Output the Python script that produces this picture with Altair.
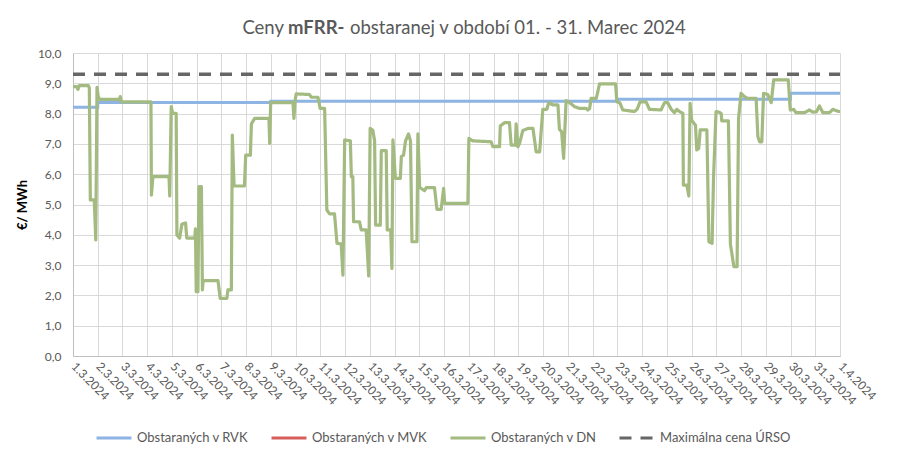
import json
import altair as alt
import pandas as pd

# ---------------- data ----------------
series_names = ["Obstaraných v RVK", "Obstaraných v MVK", "Obstaraných v DN", "Maximálna cena ÚRSO"]
series_colors = ["#8db4e2", "#d65f5c", "#a3ba80", "#666666"]

x_labels = ["1.3.2024", "2.3.2024", "3.3.2024", "4.3.2024", "5.3.2024", "6.3.2024",
            "7.3.2024", "8.3.2024", "9.3.2024", "10.3.2024", "11.3.2024", "12.3.2024",
            "13.3.2024", "14.3.2024", "15.3.2024", "16.3.2024", "17.3.2024", "18.3.2024",
            "19.3.2024", "20.3.2024", "21.3.2024", "22.3.2024", "23.3.2024", "24.3.2024",
            "25.3.2024", "26.3.2024", "27.3.2024", "28.3.2024", "29.3.2024", "30.3.2024",
            "31.3.2024", "1.4.2024"]
y_ticks = [0, 1, 2, 3, 4, 5, 6, 7, 8, 9, 10]

title_parts = ["Ceny", "mFRR-", "obstaranej v období 01. - 31. Marec 2024"]

# RVK (step values, day offset from 1.3.2024)
rvk_t = [0, 1, 8, 22, 29, 31]
rvk_v = [8.21, 8.37, 8.41, 8.47, 8.67, 8.67]

# Max price URSO
urso_t = [0, 31]
urso_v = [9.30, 9.30]

# DN
dn_t = [0.00, 0.15, 0.20, 0.25, 0.62, 0.66, 0.70, 0.86, 0.92, 0.97,
        1.02, 1.08, 1.88, 1.91, 1.95, 3.15, 3.17, 3.23, 3.88, 3.91,
        3.97, 4.03, 4.17, 4.20, 4.31, 4.40, 4.55, 4.60, 4.92, 4.95,
        4.98, 5.05, 5.09, 5.19, 5.23, 5.26, 5.86, 5.95, 6.22, 6.26,
        6.40, 6.44, 6.51, 6.93, 6.98, 7.17, 7.21, 7.34, 7.92, 7.95,
        7.99, 8.89, 8.93, 8.97, 9.02, 9.56, 9.63, 9.90, 9.99, 10.17,
        10.26, 10.37, 10.57, 10.67, 10.84, 10.91, 10.98, 11.21, 11.25, 11.31,
        11.34, 11.58, 11.65, 11.85, 11.95, 12.01, 12.12, 12.19, 12.23, 12.42,
        12.46, 12.66, 12.70, 12.84, 12.89, 12.93, 13.03, 13.23, 13.27, 13.36,
        13.44, 13.56, 13.64, 13.70, 13.90, 13.94, 14.01, 14.21, 14.28, 14.61,
        14.71, 14.88, 14.98, 15.02, 15.96, 16.00, 16.16, 16.90, 16.97, 17.24,
        17.27, 17.44, 17.64, 17.71, 17.88, 17.91, 17.98, 18.05, 18.18, 18.39,
        18.59, 18.72, 18.86, 18.92, 18.99, 19.15, 19.23, 19.39, 19.60, 19.66,
        19.75, 19.83, 19.93, 20.07, 20.27, 20.47, 20.74, 20.81, 20.88, 20.94,
        21.15, 21.28, 21.93, 21.98, 22.10, 22.22, 22.69, 22.80, 22.92, 23.16,
        23.30, 23.77, 23.84, 23.91, 24.04, 24.18, 24.31, 24.40, 24.51, 24.65,
        24.67, 24.81, 24.89, 24.94, 25.01, 25.16, 25.21, 25.29, 25.35, 25.62,
        25.70, 25.83, 25.89, 25.99, 26.13, 26.20, 26.22, 26.49, 26.57, 26.71,
        26.84, 26.90, 27.00, 27.14, 27.27, 27.61, 27.68, 27.75, 27.84, 27.91,
        28.08, 28.22, 28.32, 28.91, 28.99, 29.13, 29.22, 29.56, 29.76, 29.90,
        30.05, 30.17, 30.31, 30.57, 30.71, 30.94, 31.00]
dn_v = [8.89, 8.89, 8.80, 8.92, 8.92, 8.85, 5.15, 5.15, 3.83, 8.87,
        8.56, 8.47, 8.47, 8.56, 8.39, 8.39, 5.31, 5.92, 5.92, 5.28,
        8.23, 8.01, 8.01, 3.99, 3.89, 4.35, 4.39, 3.89, 3.89, 4.20,
        2.12, 2.12, 5.59, 5.59, 2.18, 2.49, 2.49, 1.90, 1.90, 2.18,
        2.18, 7.29, 5.61, 5.61, 6.63, 6.63, 7.66, 7.84, 7.84, 7.02,
        8.36, 8.36, 7.84, 8.40, 8.65, 8.63, 8.54, 8.54, 8.17, 8.17,
        4.82, 4.69, 4.69, 3.72, 3.70, 2.67, 7.13, 7.10, 5.92, 5.92,
        4.43, 4.43, 4.16, 4.16, 2.64, 7.51, 7.45, 7.10, 4.32, 4.32,
        6.78, 6.78, 4.16, 4.16, 2.89, 7.13, 5.86, 5.86, 6.58, 6.63,
        7.10, 7.33, 7.10, 3.77, 3.77, 7.33, 5.56, 5.46, 5.56, 5.56,
        4.84, 4.84, 5.53, 5.04, 5.04, 7.18, 7.10, 7.07, 6.91, 6.91,
        7.59, 7.70, 7.70, 6.96, 6.96, 7.66, 6.90, 7.02, 7.44, 7.51,
        7.51, 6.74, 6.74, 7.40, 8.14, 8.14, 8.36, 8.29, 8.29, 7.48,
        7.40, 6.52, 8.43, 8.36, 8.23, 8.17, 8.17, 8.12, 8.17, 8.50,
        8.50, 8.98, 8.98, 8.39, 8.36, 8.12, 8.07, 8.14, 8.39, 8.39,
        8.14, 8.12, 8.25, 8.36, 8.36, 8.14, 8.03, 8.14, 8.07, 8.01,
        5.64, 5.64, 5.28, 8.34, 7.77, 7.62, 6.80, 6.85, 7.46, 7.46,
        3.77, 3.72, 5.92, 8.07, 8.04, 8.00, 7.76, 7.76, 3.70, 2.95,
        2.95, 7.84, 8.67, 8.56, 8.50, 8.50, 7.24, 7.07, 7.07, 8.67,
        8.63, 8.36, 9.11, 9.11, 8.12, 8.14, 8.03, 8.03, 8.12, 8.05,
        8.06, 8.25, 8.03, 8.03, 8.14, 8.07, 8.07]
assert len(dn_t) == len(dn_v)

# ---------------- build ----------------
rvk_df = pd.DataFrame({"t": rvk_t, "v": rvk_v, "series": series_names[0]})
dn_df = pd.DataFrame({"t": dn_t, "v": dn_v, "series": series_names[2]})
urso_df = pd.DataFrame({"t": urso_t, "v": urso_v, "series": series_names[3]})

FONT = "Lato"
GRID = "#d9d9d9"
TXT = "#595959"

legend = alt.Legend(
    title=None, orient="none", legendX=22, legendY=366, direction="horizontal",
    symbolType="stroke", symbolSize=1225, symbolStrokeWidth=3,
    labelFontSize=13, labelColor=TXT, labelFont=FONT, columnPadding=16,
    labelOffset=4,
)
cscale = alt.Scale(domain=series_names, range=series_colors)
dscale = alt.Scale(domain=series_names, range=[[1, 0], [1, 0], [1, 0], [12, 9]])

x_axis = alt.Axis(
    values=list(range(len(x_labels))),
    labelExpr=f"{json.dumps(x_labels)}[datum.value]",
    labelAngle=45, labelAlign="left", labelBaseline="middle",
    labelFontSize=12, labelColor=TXT, labelFont=FONT, labelPadding=8,
    labelOverlap=False, labelFlush=False, labelBound=False,
    grid=True, gridColor=GRID, domainColor="#bfbfbf", ticks=False, title=None,
)
y_axis = alt.Axis(
    values=y_ticks,
    labelExpr="replace(format(datum.value, '.1f'), '.', ',')",
    labelFontSize=12, labelColor=TXT, labelFont=FONT, labelPadding=12,
    grid=True, gridColor=GRID, domainColor="#bfbfbf", ticks=False,
    title="€/ MWh", titleFont=FONT, titleFontSize=13, titleFontWeight="bold",
    titleColor="#000000", titlePadding=8,
)

xenc = alt.X("t:Q", scale=alt.Scale(domain=[0, 31], nice=False, zero=False), axis=x_axis)
yenc = alt.Y("v:Q", scale=alt.Scale(domain=[0, 10], nice=False), axis=y_axis)
cenc = alt.Color("series:N", scale=cscale, legend=legend)
denc = alt.StrokeDash("series:N", scale=dscale, legend=legend)

rvk = alt.Chart(rvk_df).mark_line(interpolate="step-after", strokeWidth=3).encode(
    x=xenc, y=yenc, color=cenc, strokeDash=denc)
dn = alt.Chart(dn_df).mark_line(strokeWidth=3.2, strokeJoin="round").encode(
    x=xenc, y=yenc, color=cenc, strokeDash=denc)
urso = alt.Chart(urso_df).mark_line(strokeWidth=3.5).encode(
    x=xenc, y=yenc, color=cenc, strokeDash=denc)

TS = 18.5
t1 = alt.Chart(pd.DataFrame({"s": [title_parts[0]]})).mark_text(
    font=FONT, fontSize=TS, color=TXT, align="right", baseline="middle").encode(
    text="s:N", x=alt.value(211), y=alt.value(-25))
t2 = alt.Chart(pd.DataFrame({"s": [title_parts[1]]})).mark_text(
    font=FONT, fontSize=TS, color=TXT, fontWeight="bold", align="left", baseline="middle").encode(
    text="s:N", x=alt.value(215), y=alt.value(-25))
t3 = alt.Chart(pd.DataFrame({"s": [title_parts[2]]})).mark_text(
    font=FONT, fontSize=TS, color=TXT, align="left", baseline="middle").encode(
    text="s:N", x=alt.value(277), y=alt.value(-25))

chart = alt.layer(rvk, dn, urso, t1, t2, t3).properties(
    width=767, height=303,
    autosize=alt.AutoSizeParams(type="none"),
    padding={"left": 65, "top": 45, "right": 40, "bottom": 100},
    background="white",
).configure_view(stroke=None)

chart.save("out.html", embed_options={"renderer": "svg", "actions": False})
